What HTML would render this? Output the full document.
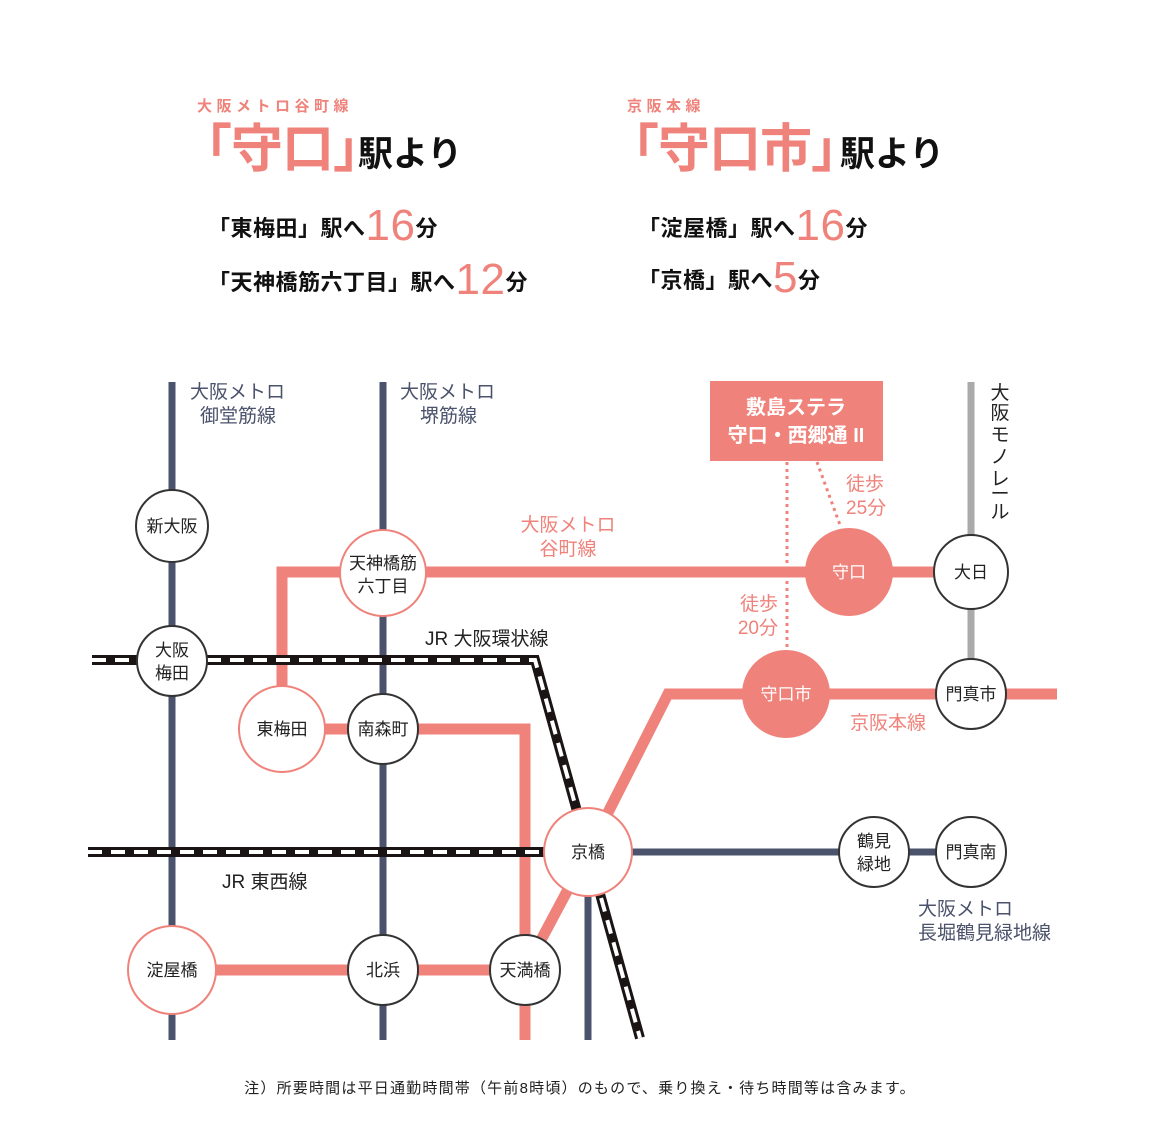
<!DOCTYPE html>
<html><head><meta charset="utf-8"><style>
html,body{margin:0;padding:0;background:#fff;}
svg{display:block;font-family:"Liberation Sans","Noto Sans CJK JP",sans-serif;}
</style></head><body>
<svg width="1157" height="1137" viewBox="0 0 1157 1137" xmlns="http://www.w3.org/2000/svg">
<g font-weight="bold">
<text x="197" y="111" font-size="15" fill="#ef827a" letter-spacing="4.5">大阪メトロ谷町線</text>
<text x="180" y="167" font-size="52" fill="#ef827a" letter-spacing="-1">「守口」</text>
<text x="358" y="166" font-size="35" fill="#111">駅より</text>
<text x="208" y="236" font-size="22" fill="#111" letter-spacing="0.5">「東梅田」駅へ<tspan font-size="44" fill="#ef827a" font-weight="normal" dy="4">16</tspan><tspan dy="-4">分</tspan></text>
<text x="208" y="290" font-size="22" fill="#111" letter-spacing="0.5">「天神橋筋六丁目」駅へ<tspan font-size="44" fill="#ef827a" font-weight="normal" dy="4">12</tspan><tspan dy="-4">分</tspan></text>
<text x="627" y="111" font-size="15" fill="#ef827a" letter-spacing="4.5">京阪本線</text>
<text x="607" y="167" font-size="52" fill="#ef827a" letter-spacing="-1">「守口市」</text>
<text x="840" y="166" font-size="35" fill="#111">駅より</text>
<text x="638" y="236" font-size="22" fill="#111" letter-spacing="0.5">「淀屋橋」駅へ<tspan font-size="44" fill="#ef827a" font-weight="normal" dy="4">16</tspan><tspan dy="-4">分</tspan></text>
<text x="638" y="288" font-size="22" fill="#111" letter-spacing="0.5">「京橋」駅へ<tspan font-size="44" fill="#ef827a" font-weight="normal" dy="4">5</tspan><tspan dy="-4">分</tspan></text>
</g>

<g fill="none">
<line x1="172" y1="382" x2="172" y2="1040" stroke="#4b526b" stroke-width="7"/>
<line x1="383" y1="382" x2="383" y2="1040" stroke="#4b526b" stroke-width="7"/>
<line x1="588" y1="852" x2="971" y2="852" stroke="#4b526b" stroke-width="7"/>
<line x1="588" y1="852" x2="588" y2="1040" stroke="#4b526b" stroke-width="7"/>
<line x1="971" y1="382" x2="971" y2="694" stroke="#aaaaaa" stroke-width="7"/>
<path d="M282,690 V572 H971" stroke="#ef827a" stroke-width="11"/>
<path d="M282,729 H383 M383,729 H525 V1040" stroke="#ef827a" stroke-width="11"/>
<path d="M172,970 H525 L588,852 L668,694 H1057" stroke="#ef827a" stroke-width="11"/>
<path d="M92,660 H535 L640,1038" stroke="#1a1414" stroke-width="10"/>
<path d="M92,660 H535 L640,1038" stroke="#fff" stroke-width="4" stroke-dasharray="14,9"/>
<path d="M88,852 H588" stroke="#1a1414" stroke-width="10"/>
<path d="M88,852 H588" stroke="#fff" stroke-width="4" stroke-dasharray="14,9"/>
<line x1="787" y1="462" x2="787" y2="652" stroke="#ef827a" stroke-width="3" stroke-dasharray="3,4"/>
<line x1="817" y1="462" x2="840" y2="525" stroke="#ef827a" stroke-width="3" stroke-dasharray="3,4"/>
</g>

<g stroke-width="2" fill="#fff">
<circle cx="172" cy="526" r="36" stroke="#333"/>
<circle cx="172" cy="661" r="35" stroke="#333"/>
<circle cx="383" cy="573" r="43" stroke="#ef827a"/>
<circle cx="282" cy="729" r="43" stroke="#ef827a"/>
<circle cx="383" cy="729" r="35" stroke="#333"/>
<circle cx="588" cy="852" r="44" stroke="#ef827a"/>
<circle cx="172" cy="970" r="44" stroke="#ef827a"/>
<circle cx="383" cy="970" r="35" stroke="#333"/>
<circle cx="525" cy="970" r="35" stroke="#333"/>
<circle cx="971" cy="572" r="37" stroke="#333"/>
<circle cx="971" cy="694" r="35" stroke="#333"/>
<circle cx="874" cy="852" r="35" stroke="#333"/>
<circle cx="971" cy="852" r="35" stroke="#333"/>
<circle cx="849" cy="572" r="43" fill="#ef827a" stroke="#ef827a"/>
<circle cx="786" cy="694" r="43" fill="#ef827a" stroke="#ef827a"/>
</g>
<rect x="710" y="381" width="173" height="80" fill="#ef827a"/>
<g font-weight="bold" font-size="20" fill="#fff" text-anchor="middle">
<text x="796" y="414">敷島ステラ</text>
<text x="796" y="442">守口・西郷通 II</text>
</g>

<g font-size="17" fill="#222" text-anchor="middle">
<text x="172" y="532">新大阪</text>
<text x="172" y="656">大阪</text><text x="172" y="679">梅田</text>
<text x="383" y="569">天神橋筋</text><text x="383" y="592">六丁目</text>
<text x="282" y="735">東梅田</text>
<text x="383" y="735">南森町</text>
<text x="588" y="858">京橋</text>
<text x="172" y="976">淀屋橋</text>
<text x="383" y="976">北浜</text>
<text x="525" y="976">天満橋</text>
<text x="971" y="578">大日</text>
<text x="971" y="700">門真市</text>
<text x="874" y="847">鶴見</text><text x="874" y="870">緑地</text>
<text x="971" y="858">門真南</text>
<text x="849" y="578" fill="#fff">守口</text>
<text x="786" y="700" fill="#fff">守口市</text>
</g>

<g font-size="19">
<text x="190" y="398" fill="#4b526b">大阪メトロ</text><text x="200" y="422" fill="#4b526b">御堂筋線</text>
<text x="400" y="398" fill="#4b526b">大阪メトロ</text><text x="420" y="422" fill="#4b526b">堺筋線</text>
<text x="568" y="531" fill="#ef827a" text-anchor="middle">大阪メトロ</text><text x="568" y="555" fill="#ef827a" text-anchor="middle">谷町線</text>
<text x="425" y="645" fill="#222">JR 大阪環状線</text>
<text x="222" y="888" fill="#222">JR 東西線</text>
<text x="850" y="729" fill="#ef827a">京阪本線</text>
<text x="918" y="915" fill="#4b526b">大阪メトロ</text><text x="918" y="939" fill="#4b526b">長堀鶴見緑地線</text>
<text x="846" y="490" fill="#ef827a">徒歩</text><text x="846" y="514" fill="#ef827a">25分</text>
<text x="778" y="610" fill="#ef827a" text-anchor="end">徒歩</text><text x="778" y="634" fill="#ef827a" text-anchor="end">20分</text>
<g fill="#222" text-anchor="middle">
<text x="1000" y="399">大</text><text x="1000" y="419">阪</text><text x="1000" y="441">モ</text><text x="1000" y="463">ノ</text><text x="1000" y="485">レ</text><text x="1000" y="500">ー</text><text x="1000" y="518">ル</text>
</g>
</g>
<text x="580" y="1093" font-size="15" fill="#222" text-anchor="middle" letter-spacing="1.2">注）所要時間は平日通勤時間帯（午前8時頃）のもので、乗り換え・待ち時間等は含みます。</text>
</svg>
</body></html>
